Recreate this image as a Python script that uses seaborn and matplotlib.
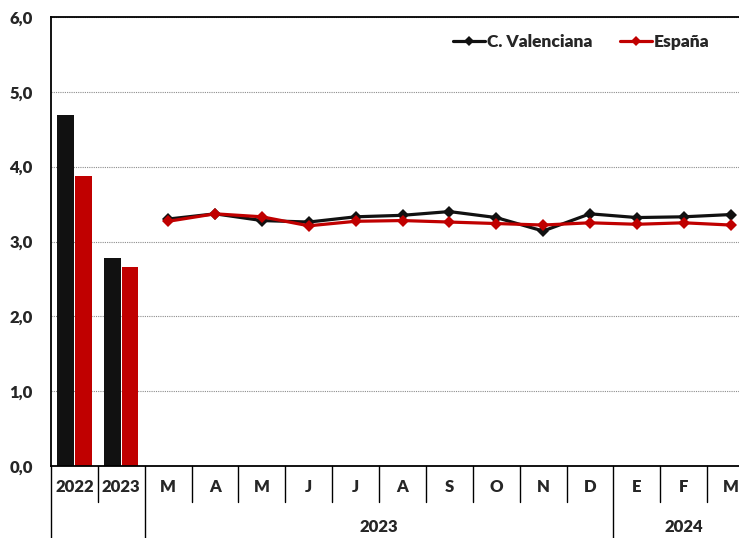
import matplotlib
matplotlib.use("Agg")
import matplotlib.pyplot as plt
import matplotlib.transforms as mtransforms
import seaborn as sns
import pandas as pd

# ---- data ----
annual_labels = ["2022", "2023"]
annual_cv = [4.69, 2.78]
annual_es = [3.87, 2.66]

month_labels = ["M", "A", "M", "J", "J", "A", "S", "O", "N", "D", "E", "F", "M"]
monthly_cv = [3.30, 3.37, 3.28, 3.26, 3.33, 3.35, 3.40, 3.32, 3.14, 3.37, 3.32, 3.33, 3.36]
monthly_es = [3.27, 3.37, 3.33, 3.21, 3.27, 3.28, 3.26, 3.24, 3.22, 3.25, 3.23, 3.25, 3.22]

group_labels = ["2023", "2024"]
series_names = ["C. Valenciana", "España"]
colors = {"C. Valenciana": "#111111", "España": "#C00000"}
y_ticks = [0, 1, 2, 3, 4, 5, 6]

sns.set_style("white")
plt.rcParams["font.family"] = ["Lato", "DejaVu Sans"]
plt.rcParams["font.weight"] = "heavy"
FW = "heavy"
FS = 12

W, H = 739, 538
fig = plt.figure(figsize=(W / 100, H / 100), dpi=100)
left, right, top, bottom = 51, 754, 17, 466
ax = fig.add_axes([left / W, (H - bottom) / H, (right - left) / W, (bottom - top) / H])

all_labels = annual_labels + month_labels
n = len(all_labels)

bar_df = pd.DataFrame({
    "cat": annual_labels * 2,
    "serie": [series_names[0]] * 2 + [series_names[1]] * 2,
    "val": annual_cv + annual_es,
})
sns.barplot(data=bar_df, x="cat", y="val", hue="serie", order=annual_labels,
            hue_order=series_names, palette=colors, width=0.76, gap=0.08,
            legend=False, ax=ax, edgecolor="none", saturation=1)

m_pos = list(range(len(annual_labels), n))
line_df = pd.DataFrame({
    "x": m_pos * 2,
    "serie": [series_names[0]] * len(m_pos) + [series_names[1]] * len(m_pos),
    "val": monthly_cv + monthly_es,
})
sns.lineplot(data=line_df, x="x", y="val", hue="serie", hue_order=series_names,
             palette=colors, marker="D", markersize=6.5, markeredgewidth=0,
             linewidth=2.3, dashes=False, ax=ax, legend=True)

ax.set_xlim(-0.5, n - 0.5)
ax.set_ylim(0, 6)
ax.set_yticks(y_ticks)
ax.set_yticklabels([f"{v:.1f}".replace(".", ",") for v in y_ticks], fontsize=FS, fontweight=FW)
ax.set_xticks(range(n))
ax.set_xticklabels(all_labels, fontsize=FS, fontweight=FW)
ax.tick_params(axis="x", length=0, pad=9)
ax.tick_params(axis="y", length=0, pad=13)
ax.set_xlabel("")
ax.set_ylabel("")

ax.yaxis.grid(True, linestyle=(0, (1, 1)), color="#8c8c8c", linewidth=0.8)
ax.set_axisbelow(True)
for s in ["left", "top", "bottom"]:
    ax.spines[s].set_color("black")
    ax.spines[s].set_linewidth(1.3)
ax.spines["right"].set_visible(False)

trans = mtransforms.blended_transform_factory(ax.transData, ax.transAxes)
short_y = -36 / (bottom - top)
long_y = -75 / (bottom - top)
long_b = [-0.5, 1.5, 11.5]
for b in [i + 0.5 for i in range(-1, n - 1)]:
    y1 = long_y if b in long_b else short_y
    ax.plot([b, b], [0, y1], transform=trans, color="black", linewidth=1.0, clip_on=False)

ax.text(6.5, -61 / (bottom - top), group_labels[0], transform=trans, ha="center", va="center",
        fontsize=FS, fontweight=FW)
ax.text(13, -61 / (bottom - top), group_labels[1], transform=trans, ha="center", va="center",
        fontsize=FS, fontweight=FW)

handles, labels = ax.get_legend_handles_labels()
for h in handles:
    h.set_markersize(5.5)
ax.legend(handles, labels, loc="center right", bbox_to_anchor=(722 / W, 1 - 42 / H),
          bbox_transform=fig.transFigure, ncol=2, frameon=False, handlelength=1.8,
          handletextpad=0.15, columnspacing=1.6, borderpad=0.2,
          prop={"weight": FW, "size": 12.5})

fig.savefig("out.png", dpi=100)
